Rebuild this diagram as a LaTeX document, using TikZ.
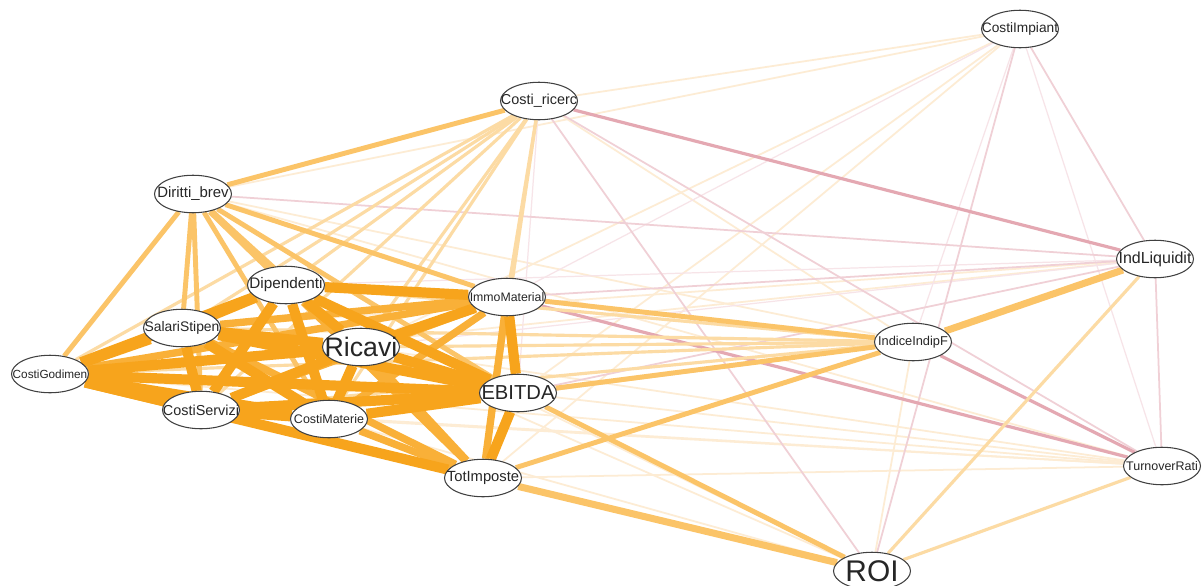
\documentclass[tikz,border=0pt]{standalone}
\usepackage{fontspec}
\setmainfont{Liberation Sans}
\usetikzlibrary{shapes.geometric}

\pgfdeclarelayer{background}
\pgfsetlayers{background,main}

% edge colours
\definecolor{strongor}{RGB}{247,164,28}
\definecolor{strongor2}{RGB}{249,176,56}
\definecolor{midor}{RGB}{251,196,104}
\definecolor{lightor}{RGB}{252,219,164}
\definecolor{faintor}{RGB}{253,236,212}
\definecolor{pinkedge}{RGB}{228,168,178}
\definecolor{pinklight}{RGB}{240,208,214}
\definecolor{pinkfaint}{RGB}{247,228,232}

\tikzset{
  var/.style={ellipse, draw=black!75, fill=white, line width=0.6pt,
    minimum width=1.54cm, minimum height=0.75cm, inner sep=0pt, text=black!85},
  strong/.style={draw=strongor, line width=5.8pt},
  strongb/.style={draw=strongor2, line width=4.2pt},
  medium/.style={draw=midor, line width=2.8pt},
  mediumb/.style={draw=midor, line width=4pt},
  light/.style={draw=lightor, line width=1.8pt},
  faint/.style={draw=faintor, line width=1pt},
  neg/.style={draw=pinkedge, line width=1.8pt},
  neglight/.style={draw=pinklight, line width=1pt},
  negfaint/.style={draw=pinkfaint, line width=0.7pt}
}
\newcommand{\vlab}[2]{\fontsize{#1}{#1}\selectfont\makebox[0pt]{#2}}

\begin{document}
\begin{tikzpicture}[x=0.02cm, y=-0.02cm]
    \clip (0,0) rectangle (1203,585);

    % Variables
    \node[var] (CI) at (1020,29) {\vlab{7.8pt}{CostiImpiant}};
    \node[var] (CR) at (539,101) {\vlab{8.2pt}{Costi\_ricerc}};
    \node[var] (DB) at (193,194) {\vlab{8.5pt}{Diritti\_brev}};
    \node[var] (IL) at (1155,259) {\vlab{9.1pt}{IndLiquidit}};
    \node[var] (DI) at (286,285) {\vlab{8.7pt}{Dipendenti}};
    \node[var] (IM) at (507,297) {\vlab{7pt}{ImmoMaterial}};
    \node[var] (SS) at (182,328) {\vlab{7.9pt}{SalariStipen}};
    \node[var] (RI) at (361,347) {\vlab{15.2pt}{Ricavi}};
    \node[var] (IF) at (913,342) {\vlab{7.3pt}{IndiceIndipF}};
    \node[var] (CG) at (50,374) {\vlab{6.7pt}{CostiGodimen}};
    \node[var] (EB) at (518,393) {\vlab{11.5pt}{EBITDA}};
    \node[var] (CS) at (201,410) {\vlab{8.2pt}{CostiServizi}};
    \node[var] (CM) at (329,419) {\vlab{7.1pt}{CostiMaterie}};
    \node[var] (TI) at (483,478) {\vlab{8.4pt}{TotImposte}};
    \node[var] (TR) at (1162,466) {\vlab{7.1pt}{TurnoverRati}};
    \node[var] (RO) at (872,571) {\vlab{17pt}{ROI}};

    \begin{pgfonlayer}{background}
    \fill[white] (0,0) rectangle (1203,585);

    % very weak links
    \foreach \a/\b in {CI/CR, CI/DB, CI/EB, CI/TI, CI/RI, TR/EB, TR/RI, TR/CM,
        TR/TI, TR/CS, TR/CG, RO/IF, RO/CM, RO/RI, RO/DI, DB/IF, DB/TR, IL/SS,
        IL/CG, IF/CR}
      \draw[faint] (\a) -- (\b);
    \foreach \a/\b in {CI/IF, DI/IL, CI/IM, CR/EB, RO/CS, CI/TR, RI/IL}
      \draw[negfaint] (\a) -- (\b);

    % negative links
    \foreach \a/\b in {DB/IL, CR/RO, CR/TR, IM/IL, CI/IL, CI/RO, EB/IL, IL/TR}
      \draw[neglight] (\a) -- (\b);
    \foreach \a/\b in {CR/IL, IM/TR, IF/TR}
      \draw[neg] (\a) -- (\b);

    % weak positive links
    \foreach \a/\b in {CR/CG, CR/SS, CR/DI, CR/RI, CR/CS, CR/CM, CR/IM, CR/TI,
        DB/TI, IF/RI, IF/DI, IF/SS, IF/CS, IF/CM, IF/CG, RO/TR, RO/IL}
      \draw[light] (\a) -- (\b);

    % medium links
    \foreach \a/\b in {DB/SS, DB/CG, DB/CS, DB/RI, DB/CM, DB/IM, DB/EB, DB/CR,
        IF/EB, IF/TI, IF/IM, RO/EB}
      \draw[medium] (\a) -- (\b);
    \foreach \a/\b in {DB/DI, IL/IF, RO/TI}
      \draw[mediumb] (\a) -- (\b);

    % strong links
    \foreach \a/\b in {CG/IM, SS/IM, CM/IM, CS/IM, DI/TI, SS/TI, RI/TI, CS/TI,
        CM/TI, IM/TI}
      \draw[strongb] (\a) -- (\b);
    \foreach \a/\b in {CG/SS, CG/DI, CG/RI, CG/CS, CG/CM, CG/EB, CG/TI, SS/RI,
        SS/CS, SS/CM, SS/EB, SS/DI, DI/CS, DI/CM, DI/RI, DI/IM, DI/EB, RI/CS,
        RI/CM, RI/EB, RI/IM, CS/CM, CS/EB, CM/EB, EB/IM, EB/TI}
      \draw[strong] (\a) -- (\b);
    \end{pgfonlayer}
\end{tikzpicture}
\end{document}
